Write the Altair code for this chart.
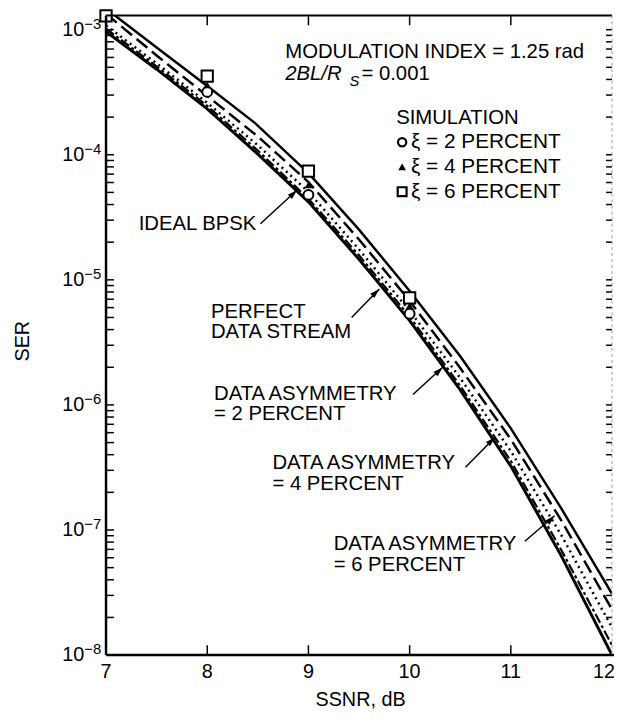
import altair as alt
import pandas as pd

FONT = "Liberation Sans"
W, H = 511, 646

# ---------------- curve data (SSNR in dB, SER) ----------------
SNR = [7.0, 7.5, 8.0, 8.5, 9.0, 9.5, 10.0, 10.5, 11.0, 11.5, 12.0]
SNR_ASYM6 = [7.0, 7.5, 8.0, 8.47, 9.0, 9.5, 10.0, 10.5, 11.0, 11.5, 12.0]

IDEAL_BPSK = [9.64e-4, 4.83e-4, 2.33e-4, 1.01e-4, 4.20e-5, 1.46e-5, 4.72e-6, 1.32e-6, 3.24e-7, 6.18e-8, 1.00e-8]
PERFECT_STREAM = [1.02e-3, 5.09e-4, 2.46e-4, 1.08e-4, 4.44e-5, 1.57e-5, 5.08e-6, 1.42e-6, 3.56e-7, 6.90e-8, 1.20e-8]
ASYM_2 = [1.08e-3, 5.38e-4, 2.60e-4, 1.19e-4, 5.05e-5, 1.75e-5, 5.66e-6, 1.64e-6, 4.27e-7, 9.06e-8, 1.66e-8]
ASYM_4 = [1.34e-3, 6.22e-4, 2.95e-4, 1.40e-4, 6.05e-5, 2.10e-5, 6.79e-6, 1.97e-6, 5.31e-7, 1.19e-7, 2.31e-8]
ASYM_6 = [1.47e-3, 7.21e-4, 3.54e-4, 1.80e-4, 7.13e-5, 2.52e-5, 8.15e-6, 2.45e-6, 6.49e-7, 1.48e-7, 3.09e-8]

# simulation points
SIM2_SNR = [8, 9, 10]
SIM2_SER = [3.18e-4, 4.78e-5, 5.36e-6]
SIM4_SNR = [8, 9, 10]
SIM4_SER = [3.61e-4, 5.73e-5, 6.21e-6]
SIM6_SNR = [7, 8, 9, 10]
SIM6_SER = [1.29e-3, 4.25e-4, 7.40e-5, 7.18e-6]

# axes
X_DOMAIN = [7, 12]
Y_DOMAIN = [1e-8, 1.3e-3]
X_LABELS = [7, 8, 9, 10, 11]
X_LAST_LABEL = 12
X_INNER_TICKS = [8, 9, 10, 11]
DECADES = [1e-8, 1e-7, 1e-6, 1e-5, 1e-4, 1e-3]
EXPONENTS = ["\u22128", "\u22127", "\u22126", "\u22125", "\u22124", "\u22123"]
Y_MINOR = [m * d for d in DECADES for m in range(1, 10) if m * d <= Y_DOMAIN[1]]
X_TITLE = "SSNR, dB"
X_TITLE_POS = 9.515
Y_TITLE = "SER"

# annotations (data coordinates)
NOTE_TEXT = ["MODULATION INDEX = 1.25 rad", "= 0.001", "SIMULATION",
             "IDEAL BPSK", "PERFECT\nDATA STREAM",
             "DATA ASYMMETRY\n = 2 PERCENT", "DATA ASYMMETRY\n = 4 PERCENT",
             "DATA ASYMMETRY\n= 6 PERCENT"]
NOTE_X = [8.771, 9.524, 9.867, 7.323, 8.037, 8.067, 8.644, 9.250]
NOTE_Y = [6.64e-4, 4.45e-4, 1.98e-4, 2.81e-5, 5.56e-6, 1.23e-6, 3.43e-7, 7.69e-8]
BL_TEXT = "2BL/R"
BL_X, BL_Y = 8.771, 4.45e-4
SUB_TEXT = "S"
SUB_X, SUB_Y = 9.405, 3.91e-4
LEGEND_TEXT = ["\u03be = 2 PERCENT", "\u03be = 4 PERCENT", "\u03be = 6 PERCENT"]
LEGEND_TEXT_X = 10.014
LEGEND_SYM_X = 9.926
LEGEND_Y = [1.26e-4, 8.0e-5, 5.07e-5]

ARROW_X0 = [8.526, 9.427, 10.033, 10.552, 11.139]
ARROW_Y0 = [2.81e-5, 4.99e-6, 1.21e-6, 3.18e-7, 8.13e-8]
ARROW_X1 = [8.888, 9.701, 10.327, 10.845, 11.432]
ARROW_Y1 = [5.22e-5, 8.45e-6, 2.00e-6, 5.51e-7, 1.30e-7]

# ---------------- scales ----------------
xs = alt.Scale(domain=X_DOMAIN, nice=False, zero=False)
ys = alt.Scale(type="log", domain=Y_DOMAIN, nice=False)


def X(field):
    return alt.X(field, scale=xs, axis=None)


def Y(field):
    return alt.Y(field, scale=ys, axis=None)


def curve(xv, yv, width, dash=None):
    df = pd.DataFrame({"snr": xv, "ser": yv})
    kw = dict(color="black", strokeWidth=width, clip=True)
    if dash:
        kw["strokeDash"] = dash
    return alt.Chart(df).mark_line(**kw).encode(x=X("snr:Q"), y=Y("ser:Q"))


layers = [
    curve(SNR, IDEAL_BPSK, 3),
    curve(SNR, PERFECT_STREAM, 2.2, dash=[10, 3, 3, 3]),
    curve(SNR, ASYM_2, 2.5, dash=[2, 4]),
    curve(SNR, ASYM_4, 2.5, dash=[14, 6]),
    curve(SNR_ASYM6, ASYM_6, 2.5),
]

# simulation points
layers.append(alt.Chart(pd.DataFrame({"snr": SIM2_SNR, "ser": SIM2_SER})).mark_point(
    shape="circle", filled=True, fill="white", stroke="black", strokeWidth=2, size=100,
    opacity=1).encode(x=X("snr:Q"), y=Y("ser:Q")))
layers.append(alt.Chart(pd.DataFrame({"snr": SIM4_SNR, "ser": SIM4_SER})).mark_point(
    shape="triangle-up", filled=True, color="black", size=60, opacity=1).encode(
    x=X("snr:Q"), y=Y("ser:Q")))
layers.append(alt.Chart(pd.DataFrame({"snr": SIM6_SNR, "ser": SIM6_SER})).mark_point(
    shape="square", filled=True, fill="white", stroke="black", strokeWidth=2, size=130,
    opacity=1).encode(x=X("snr:Q"), y=Y("ser:Q")))

# frame: axis lines, inward ticks, top border, faint right border
one = pd.DataFrame({"a": [0]})
ytick_df = pd.DataFrame({"v": Y_MINOR})
xtick_df = pd.DataFrame({"v": X_INNER_TICKS})
layers.append(alt.Chart(ytick_df).mark_rule(color="black", strokeWidth=1.5).encode(
    y=Y("v:Q"), x=alt.value(0), x2=alt.value(8)))
layers.append(alt.Chart(ytick_df).mark_rule(color="black", strokeWidth=1.5).encode(
    y=Y("v:Q"), x=alt.value(W - 6), x2=alt.value(W)))
layers.append(alt.Chart(xtick_df).mark_rule(color="black", strokeWidth=1.5).encode(
    x=X("v:Q"), y=alt.value(0), y2=alt.value(10)))
layers.append(alt.Chart(xtick_df).mark_rule(color="black", strokeWidth=1.5).encode(
    x=X("v:Q"), y=alt.value(H - 10), y2=alt.value(H)))
layers.append(alt.Chart(one).mark_rule(color="black", strokeWidth=2).encode(
    x=alt.value(0), x2=alt.value(W), y=alt.value(0)))
layers.append(alt.Chart(one).mark_rule(color="black", strokeWidth=2.5).encode(
    x=alt.value(0), x2=alt.value(W + 2), y=alt.value(H)))
layers.append(alt.Chart(one).mark_rule(color="black", strokeWidth=2.5).encode(
    x=alt.value(0), y=alt.value(0), y2=alt.value(H)))
layers.append(alt.Chart(one).mark_rule(color="#9a9a9a", strokeWidth=1, strokeDash=[3, 3]).encode(
    x=alt.value(W), y=alt.value(0), y2=alt.value(H)))

# x tick labels and title
xlab_df = pd.DataFrame({"v": X_LABELS, "lab": [str(v) for v in X_LABELS]})
layers.append(alt.Chart(xlab_df).mark_text(align="center", baseline="middle", fontSize=20,
                                           font=FONT, color="black").encode(
    x=X("v:Q"), y=alt.value(H + 17), text="lab:N"))
layers.append(alt.Chart(pd.DataFrame({"v": [X_LAST_LABEL], "lab": [str(X_LAST_LABEL)]})).mark_text(
    align="right", baseline="middle", fontSize=20, font=FONT, color="black", dx=3).encode(
    x=X("v:Q"), y=alt.value(H + 17), text="lab:N"))
layers.append(alt.Chart(pd.DataFrame({"v": [X_TITLE_POS]})).mark_text(
    text=X_TITLE, align="center", baseline="middle", fontSize=20, font=FONT,
    color="black").encode(x=X("v:Q"), y=alt.value(H + 45)))

# y decade labels 10^-n
dec_df = pd.DataFrame({"v": DECADES, "exp": EXPONENTS})
layers.append(alt.Chart(dec_df).mark_text(text="10", align="right", baseline="middle",
                                          fontSize=20, font=FONT, color="black").encode(
    y=Y("v:Q"), x=alt.value(-22)))
layers.append(alt.Chart(dec_df).mark_text(align="left", baseline="middle", fontSize=15,
                                          font=FONT, color="black", dy=-6).encode(
    y=Y("v:Q"), x=alt.value(-22), text="exp:N"))
# y title
layers.append(alt.Chart(one).mark_text(text=Y_TITLE, angle=270, align="center",
                                       baseline="middle", fontSize=20, font=FONT,
                                       color="black").encode(
    x=alt.value(-84), y=alt.value(H / 2 + 6)))

# annotation texts
note_df = pd.DataFrame({"t": NOTE_TEXT, "x": NOTE_X, "y": NOTE_Y})
layers.append(alt.Chart(note_df).mark_text(align="left", baseline="top", fontSize=20.5,
                                           font=FONT, color="black", lineBreak="\n",
                                           lineHeight=21, dy=-10).encode(
    x=X("x:Q"), y=Y("y:Q"), text="t:N"))
layers.append(alt.Chart(pd.DataFrame({"x": [BL_X], "y": [BL_Y]})).mark_text(
    text=BL_TEXT, align="left", baseline="middle", fontSize=20.5, font=FONT,
    fontStyle="italic", color="black").encode(x=X("x:Q"), y=Y("y:Q")))
layers.append(alt.Chart(pd.DataFrame({"x": [SUB_X], "y": [SUB_Y]})).mark_text(
    text=SUB_TEXT, align="left", baseline="middle", fontSize=15, font=FONT,
    fontStyle="italic", color="black").encode(x=X("x:Q"), y=Y("y:Q")))

# legend
leg_df = pd.DataFrame({"t": LEGEND_TEXT, "y": LEGEND_Y, "x": [LEGEND_TEXT_X] * 3})
layers.append(alt.Chart(leg_df).mark_text(align="left", baseline="middle", fontSize=21,
                                          font=FONT, color="black").encode(
    x=X("x:Q"), y=Y("y:Q"), text="t:N"))
layers.append(alt.Chart(pd.DataFrame({"x": [LEGEND_SYM_X], "y": [LEGEND_Y[0]]})).mark_point(
    shape="circle", filled=True, fill="white", stroke="black", strokeWidth=2.2, size=70,
    opacity=1).encode(x=X("x:Q"), y=Y("y:Q")))
layers.append(alt.Chart(pd.DataFrame({"x": [LEGEND_SYM_X], "y": [LEGEND_Y[1]]})).mark_point(
    shape="triangle-up", filled=True, color="black", size=60, opacity=1).encode(
    x=X("x:Q"), y=Y("y:Q")))
layers.append(alt.Chart(pd.DataFrame({"x": [LEGEND_SYM_X], "y": [LEGEND_Y[2]]})).mark_point(
    shape="square", filled=True, fill="white", stroke="black", strokeWidth=2.2, size=80,
    opacity=1).encode(x=X("x:Q"), y=Y("y:Q")))

# arrows
arrow_df = pd.DataFrame({"x0": ARROW_X0, "y0": ARROW_Y0, "x1": ARROW_X1, "y1": ARROW_Y1})
layers.append(alt.Chart(arrow_df).mark_rule(color="black", strokeWidth=1.5).encode(
    x=X("x0:Q"), y=Y("y0:Q"), x2="x1:Q", y2="y1:Q"))
layers.append(alt.Chart(arrow_df).mark_point(
    shape="M0,0L0.6,2L-0.6,2Z", filled=True, color="black", size=100, angle=46,
    opacity=1).encode(x=X("x1:Q"), y=Y("y1:Q")))

chart = alt.layer(*layers).properties(
    width=W, height=H,
    autosize=alt.AutoSizeParams(type="none"),
    padding={"left": 99, "top": 4, "right": 2, "bottom": 55},
    background="white",
).configure_view(stroke=None)

chart.save("out.html", embed_options={"renderer": "svg", "actions": False})
